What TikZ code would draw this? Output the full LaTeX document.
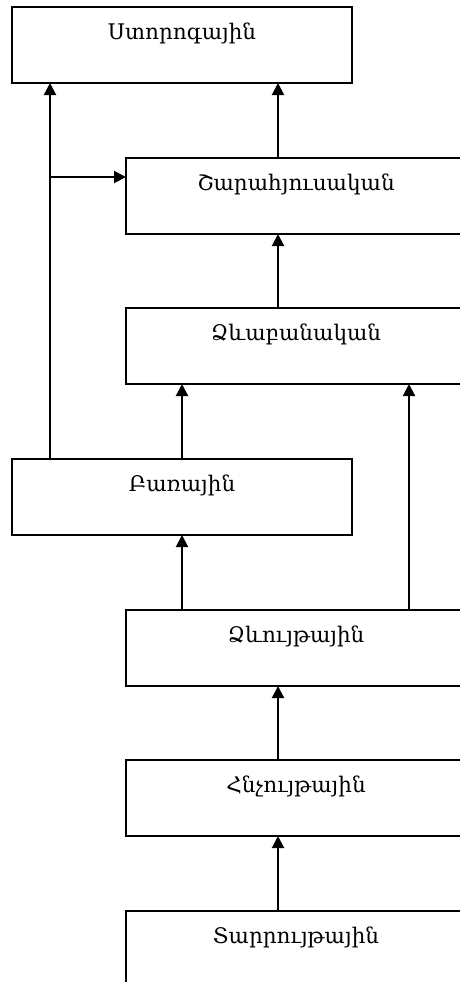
\documentclass[tikz,border=0pt]{standalone}
\usepackage{fontspec}
\newfontfamily\armfont[Script=Armenian]{DejaVu Serif}
\usetikzlibrary{arrows.meta}
\tikzset{
  box/.style={draw, line width=2pt, rectangle, minimum width=340pt, minimum height=76pt, inner sep=0pt, outer sep=0pt, anchor=north west},
  txt/.style={font=\armfont\fontsize{21.5}{24}\selectfont, inner sep=0pt},
  arr/.style={line width=2pt, -{Triangle[length=12pt,width=12pt]}},
}
\begin{document}
\begin{tikzpicture}[x=1pt,y=1pt]
\useasboundingbox (0,0) rectangle (460,-982);
\fill[white] (0,0) rectangle (460,-982);
\begin{scope}
\clip (0,0) rectangle (460,-982);
\node[box] (A) at (12,-7) {};
\node[box] (B) at (126,-158) {};
\node[box] (C) at (126,-308) {};
\node[box] (D) at (12,-459) {};
\node[box] (E) at (126,-610) {};
\node[box] (F) at (126,-760) {};
\node[box] (G) at (126,-911) {};
\node[txt] (tA) at ([yshift=-26pt]A.north) {Ստորոգային};
\node[txt] (tB) at ([yshift=-26pt]B.north) {Շարահյուսական};
\node[txt] (tC) at ([yshift=-26pt]C.north) {Ձևաբանական};
\node[txt] (tD) at ([yshift=-26pt]D.north) {Բառային};
\node[txt] (tE) at ([yshift=-26pt]E.north) {Ձևույթային};
\node[txt] (tF) at ([yshift=-26pt]F.north) {Հնչույթային};
\node[txt] (tG) at ([yshift=-26pt]G.north) {Տարրույթային};
\coordinate (xl) at (50,0);
\coordinate (xm) at (182,0);
\coordinate (xc) at (278,0);
\coordinate (xr) at (409,0);
\coordinate (j) at (50,-177);
\draw[arr] (D.north -| xl) -- (A.south -| xl);
\draw[arr] (j) -- (j -| B.west);
\draw[arr] (B.north -| xc) -- (A.south -| xc);
\draw[arr] (C.north -| xc) -- (B.south -| xc);
\draw[arr] (D.north -| xm) -- (C.south -| xm);
\draw[arr] (E.north -| xm) -- (D.south -| xm);
\draw[arr] (E.north -| xr) -- (C.south -| xr);
\draw[arr] (F.north -| xc) -- (E.south -| xc);
\draw[arr] (G.north -| xc) -- (F.south -| xc);
\end{scope}
\end{tikzpicture}
\end{document}
